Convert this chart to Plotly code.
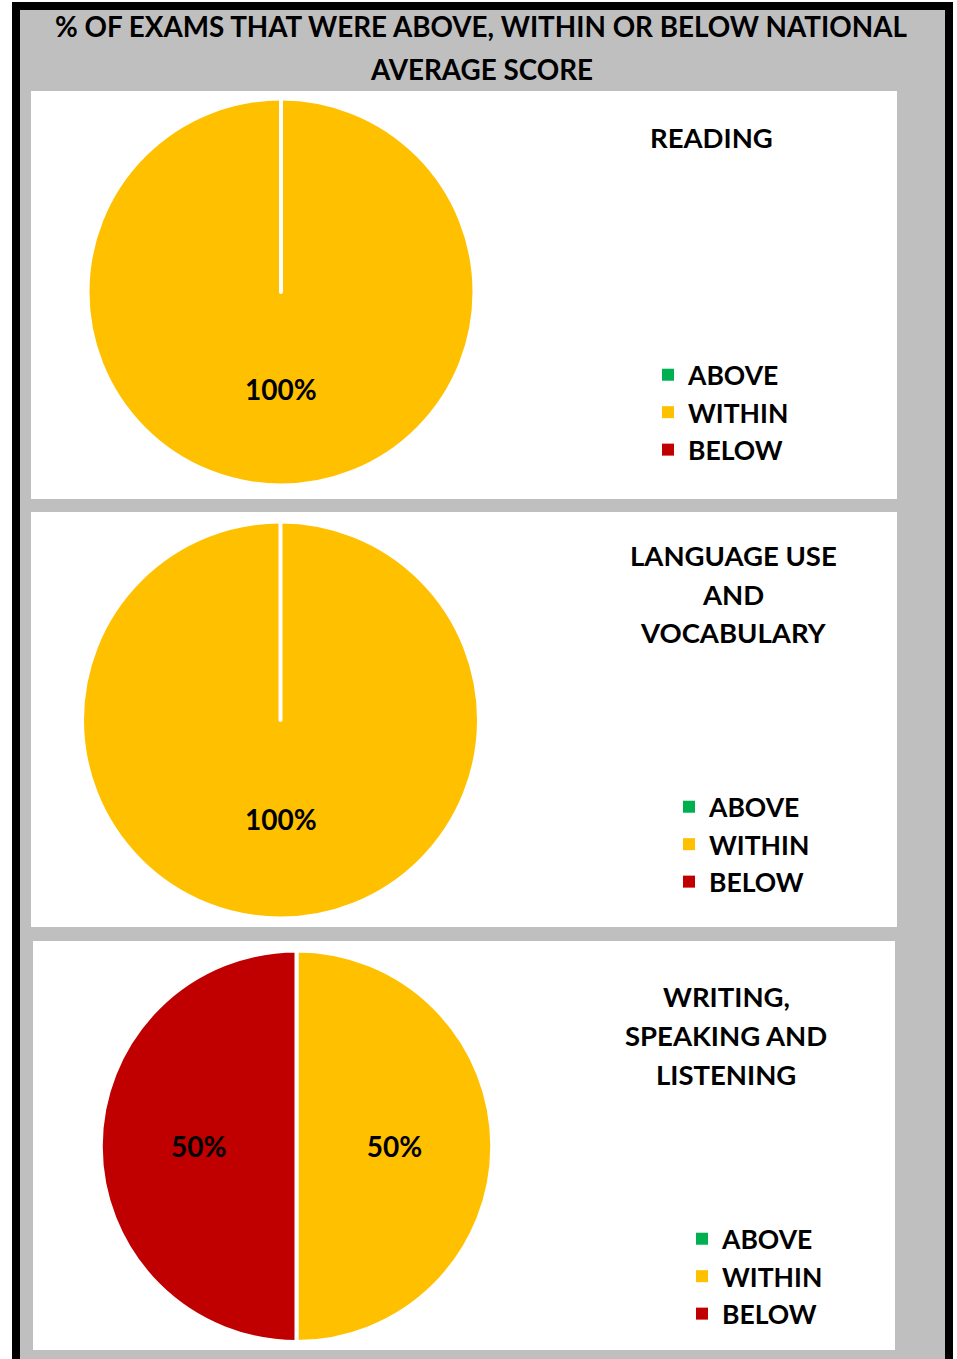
import math
import plotly.graph_objects as go

W, H = 957, 1359

categories = ["ABOVE", "WITHIN", "BELOW"]
colors = ["#00B050", "#FFC000", "#C00000"]

subjects = ["READING", "LANGUAGE USE AND VOCABULARY", "WRITING, SPEAKING AND LISTENING"]
subject_lines = [["READING"], ["LANGUAGE USE", "AND", "VOCABULARY"], ["WRITING,", "SPEAKING AND", "LISTENING"]]
reading_values = [0, 100, 0]
language_values = [0, 100, 0]
writing_values = [0, 50, 50]
all_values = [reading_values, language_values, writing_values]

title_lines = ["% OF EXAMS THAT WERE ABOVE, WITHIN OR BELOW NATIONAL", "AVERAGE SCORE"]

FONT = "Lato"


def fx(px):
    return px / W


def fy(py):
    return 1 - py / H


# layout geometry (pixels)
panels = [(31, 91, 897, 499), (31, 512, 897, 927), (33, 941, 895, 1350)]
pie_boxes = [(87.5, 98.5, 474.5, 485.5), (81.5, 521.5, 479.5, 918.5), (100.5, 950.5, 492.5, 1342)]
subtitle_pos = [(711, [138]), (733, [555, 594, 633]), (726, [996, 1035, 1074])]
legend_pos = [(648, 351), (669, 783), (682, 1215)]

label_font = dict(family=FONT, size=28, color="black", weight="bold")

fig = go.Figure()
legend_names = ["legend", "legend2", "legend3"]
annotations = []
for i, vals in enumerate(all_values):
    x0, y0, x1, y1 = pie_boxes[i]
    dom = dict(x=[fx(x0), fx(x1)], y=[fy(y1), fy(y0)])
    total = sum(vals)
    group = f"pie{i + 1}"
    # legend source (no white outline so the legend squares stay full size)
    fig.add_trace(go.Pie(
        labels=categories, values=vals, sort=False, direction="clockwise", rotation=0,
        marker=dict(colors=colors, line=dict(color="white", width=0)),
        domain=dom, textinfo="none", hoverinfo="skip",
        showlegend=True, legend=legend_names[i], legendgroup=group, name=subjects[i],
    ))
    # visible pie with white slice borders
    full = [v == total and v > 0 for v in vals]
    fig.add_trace(go.Pie(
        labels=categories, values=vals, sort=False, direction="clockwise", rotation=0,
        marker=dict(colors=colors, line=dict(color="white", width=4)),
        domain=dom,
        texttemplate=["%{percent:.0%}" if (v > 0 and not f) else "" for v, f in zip(vals, full)],
        textposition="inside", insidetextorientation="horizontal",
        textfont=label_font,
        hoverinfo="label+percent", showlegend=False,
        legend=legend_names[i], legendgroup=group, name=subjects[i],
    ))
    # a full-circle slice gets its label at half radius along its mid angle
    cx, cy = (x0 + x1) / 2, (y0 + y1) / 2
    r = min(x1 - x0, y1 - y0) / 2
    cum = 0
    for v, f in zip(vals, full):
        if f:
            mid = (cum + v / 2) / total * 2 * math.pi
            ax = cx + 0.5 * r * math.sin(mid)
            ay = cy - 0.5 * r * math.cos(mid)
            annotations.append(dict(text=f"{round(100 * v / total)}%", x=fx(ax), y=fy(ay),
                                    xref="paper", yref="paper", xanchor="center", yanchor="middle",
                                    showarrow=False, font=label_font))
        cum += v

shapes = [
    dict(type="rect", xref="paper", yref="paper", x0=fx(12), x1=fx(953), y0=fy(1400), y1=fy(2),
         fillcolor="black", line=dict(width=0), layer="below"),
    dict(type="rect", xref="paper", yref="paper", x0=fx(20), x1=fx(945), y0=fy(1400), y1=fy(10),
         fillcolor="#BFBFBF", line=dict(width=0), layer="below"),
]
for (x0, y0, x1, y1) in panels:
    shapes.append(dict(type="rect", xref="paper", yref="paper", x0=fx(x0), x1=fx(x1), y0=fy(y1), y1=fy(y0),
                       fillcolor="white", line=dict(width=0), layer="below"))

for t, py in zip(title_lines, [27, 69]):
    annotations.append(dict(text=t, x=fx(481), y=fy(py), xref="paper", yref="paper",
                            xanchor="center", yanchor="middle", showarrow=False,
                            font=dict(family=FONT, size=27.8, color="black", weight="bold")))
for (cx, ys), lines in zip(subtitle_pos, subject_lines):
    for t, py in zip(lines, ys):
        annotations.append(dict(text=t, x=fx(cx), y=fy(py), xref="paper", yref="paper",
                                xanchor="center", yanchor="middle", showarrow=False,
                                font=dict(family=FONT, size=27.5, color="black", weight="bold")))

layout_legends = {}
for name, (lx, ly) in zip(legend_names, legend_pos):
    layout_legends[name] = dict(x=fx(lx), y=fy(ly), xanchor="left", yanchor="top",
                                bgcolor="rgba(0,0,0,0)", tracegroupgap=0,
                                font=dict(family=FONT, size=26.5, color="black", weight="bold"))

fig.update_layout(
    width=W, height=H, margin=dict(l=0, r=0, t=0, b=0),
    paper_bgcolor="white", plot_bgcolor="white",
    shapes=shapes, annotations=annotations,
    **layout_legends,
)

fig.write_html("out.html", config={"displayModeBar": False},
               post_script="document.body.style.margin='0';")
